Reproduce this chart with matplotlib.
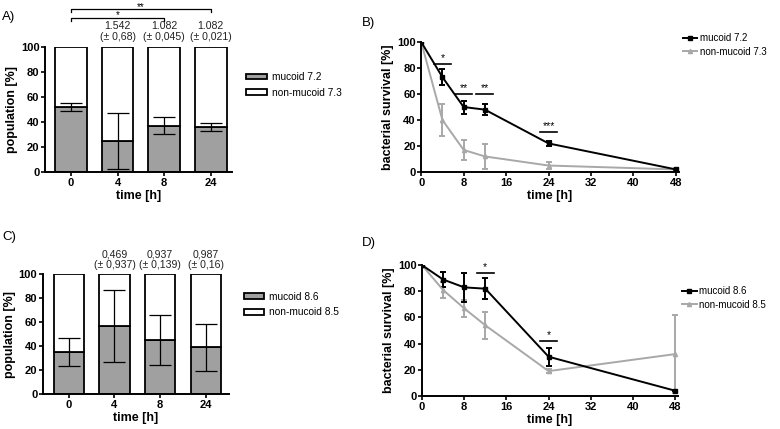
import matplotlib.pyplot as plt
from matplotlib.lines import Line2D
import numpy as np

plt.rcParams['font.family'] = ['Liberation Sans', 'DejaVu Sans']

# panel A / C: stacked population bars
bar_times = ['0', '4', '8', '24']
muc_a = [52, 25, 37, 36]
muc_a_err = [3, 22.5, 7, 3]
ratio_a = ['', '1.542\n(\u00b1 0,68)', '1.082\n(\u00b1 0,045)', '1.082\n(\u00b1 0,021)']

muc_c = [35, 57, 45, 39]
muc_c_err = [11.5, 30, 21, 19.5]
ratio_c = ['', '0,469\n(\u00b1 0,937)', '0,937\n(\u00b1 0,139)', '0,987\n(\u00b1 0,16)']

# panel B / D: survival curves
t = [0, 4, 8, 12, 24, 48]
muc72 = [100, 73, 50, 48, 22, 2]
muc72_err = [0, 6, 5, 4, 2, 0.5]
non73 = [100, 40, 17, 12, 5, 2]
non73_err = [0, 12, 8, 9.5, 2.5, 1]
stars_b = [(4, 83, '*'), (8, 60, '**'), (12, 60, '**'), (24, 31, '***')]

muc86 = [100, 89, 83, 82, 30, 4]
muc86_err = [0, 6, 11, 8, 7, 0.5]
non85 = [100, 81, 67, 54, 19, 32]
non85_err = [0, 6, 6.5, 10.5, 1.5, 30]
stars_d = [(12, 94, '*'), (24, 42, '*')]

GREY = '#a0a0a0'
LGREY = '#a8a8a8'


def style(ax):
    for s in ['top', 'right']:
        ax.spines[s].set_visible(False)
    for s in ['left', 'bottom']:
        ax.spines[s].set_linewidth(1.4)
    ax.tick_params(width=1.2, length=3, labelsize=8, pad=1)
    for lab in ax.get_xticklabels() + ax.get_yticklabels():
        lab.set_fontweight('bold')


def bars(ax, muc, err, ratios, labels, width, leg_y):
    x = np.arange(len(muc))
    non = [100 - m for m in muc]
    ax.bar(x, muc, width, color=GREY, edgecolor='black', lw=1.3, label=labels[0])
    ax.bar(x, non, width, bottom=muc, color='white', edgecolor='black', lw=1.3,
           label=labels[1])
    ax.errorbar(x, muc, yerr=err, fmt='none', ecolor='black', elinewidth=0.9,
                capsize=8, capthick=0.9)
    for xi, r in zip(x, ratios):
        ax.text(xi, 112, r, ha='center', va='center', fontsize=7.6,
                linespacing=1.1, color='#222222')
    ax.set_xticks(x)
    ax.set_xticklabels(bar_times)
    ax.set_yticks([0, 20, 40, 60, 80, 100])
    ax.set_ylim(0, 100)
    ax.set_ylabel('population [%]', fontsize=9, fontweight='bold', labelpad=2)
    ax.set_xlabel('time [h]', fontsize=9, fontweight='bold', labelpad=2)
    style(ax)
    ax.legend(loc='upper left', bbox_to_anchor=(1.03, leg_y), frameon=False,
              fontsize=7.3, handlelength=2.0, handleheight=0.5, labelspacing=0.55,
              handletextpad=0.5)


def curves(ax, m, me, n, ne, labels, stars, leg_y):
    ax.errorbar(t, n, yerr=ne, color=LGREY, lw=1.4, marker='^', ms=3,
                capsize=2.5, capthick=1.4, elinewidth=1.4)
    ax.errorbar(t, m, yerr=me, color='black', lw=1.4, marker='s', ms=2.5,
                capsize=2.5, capthick=1.4, elinewidth=1.4)
    for xs, ys, s in stars:
        ax.plot([xs - 1.6, xs + 1.6], [ys, ys], color='black', lw=1.2)
        ax.text(xs, ys + 0.5, s, ha='center', va='bottom', fontsize=7.5)
    ax.set_xlim(0, 48.5)
    ax.set_ylim(0, 100)
    ax.set_xticks([0, 8, 16, 24, 32, 40, 48])
    ax.set_yticks([0, 20, 40, 60, 80, 100])
    ax.set_ylabel('bacterial survival [%]', fontsize=9, fontweight='bold', labelpad=2)
    ax.set_xlabel('time [h]', fontsize=9, fontweight='bold', labelpad=2)
    style(ax)
    h = [Line2D([], [], color='black', lw=1.4, marker='s', ms=2.5),
         Line2D([], [], color=LGREY, lw=1.4, marker='^', ms=3)]
    ax.legend(h, labels, loc='upper left', bbox_to_anchor=(0.99, leg_y),
              frameon=False, fontsize=7, handlelength=1.5, labelspacing=0.35,
              handletextpad=0.25, borderaxespad=0.3)


fig = plt.figure(figsize=(7.8, 4.29), dpi=100)

ax_a = fig.add_axes([0.0577, 0.599, 0.2393, 0.292])
bars(ax_a, muc_a, muc_a_err, ratio_a, ['mucoid 7.2', 'non-mucoid 7.3'], 0.68, 0.87)
ax_a.set_xlim(-0.56, 3.45)
# significance brackets
for x2, y, s in [(2, 123, '*'), (3, 130, '**')]:
    ax_a.plot([0, 0, x2, x2], [y - 2.5, y, y, y - 2.5], color='black', lw=0.9,
              clip_on=False)
    ax_a.text(x2 / 2, y + 2, s, ha='center', va='center', fontsize=7)

ax_b = fig.add_axes([0.540, 0.599, 0.330, 0.303])
curves(ax_b, muc72, muc72_err, non73, non73_err,
       ['mucoid 7.2', 'non-mucoid 7.3'], stars_b, 1.12)

ax_c = fig.add_axes([0.055, 0.0816, 0.239, 0.2794])
bars(ax_c, muc_c, muc_c_err, ratio_c, ['mucoid 8.6', 'non-mucoid 8.5'], 0.66, 0.93)
ax_c.set_xlim(-0.57, 3.52)

ax_d = fig.add_axes([0.541, 0.077, 0.328, 0.305])
curves(ax_d, muc86, muc86_err, non85, non85_err,
       ['mucoid 8.6', 'non-mucoid 8.5'], stars_d, 0.89)

fig.text(0.003, 0.975, 'A)', fontsize=9.5, va='top')
fig.text(0.464, 0.96, 'B)', fontsize=9.5, va='top')
fig.text(0.003, 0.462, 'C)', fontsize=9.5, va='top')
fig.text(0.464, 0.448, 'D)', fontsize=9.5, va='top')

plt.savefig('out.png', dpi=100)
